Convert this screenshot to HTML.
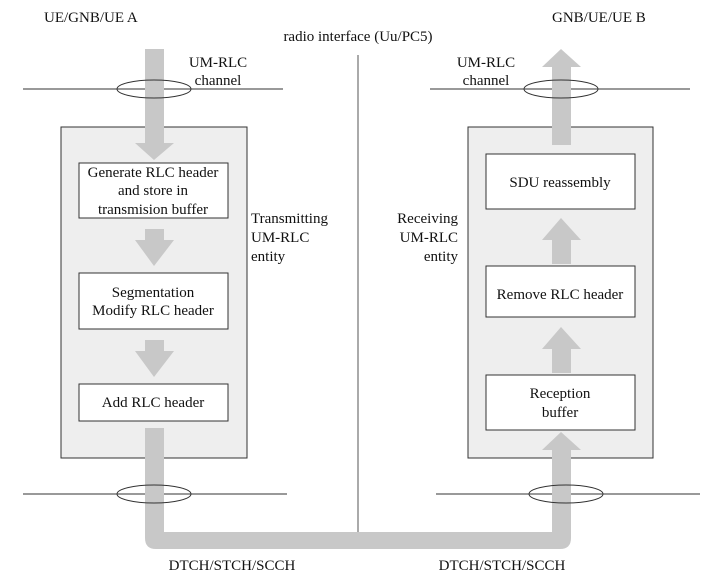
<!DOCTYPE html>
<html><head><meta charset="utf-8"><style>
html,body{margin:0;padding:0;background:#fff;}
svg{display:block;font-family:"Liberation Serif",serif;}
</style></head><body>
<svg width="721" height="580" viewBox="0 0 721 580" xmlns="http://www.w3.org/2000/svg">
<rect x="0" y="0" width="721" height="580" fill="#fff"/>
<rect x="61" y="127" width="186" height="331" fill="#eeeeee" stroke="#333" stroke-width="1"/>
<rect x="468" y="127" width="185" height="331" fill="#eeeeee" stroke="#333" stroke-width="1"/>
<line x1="358" y1="55" x2="358" y2="532" stroke="#555" stroke-width="1"/>
<line x1="23" y1="89" x2="283" y2="89" stroke="#333"/>
<line x1="430" y1="89" x2="690" y2="89" stroke="#333"/>
<line x1="23" y1="494" x2="287" y2="494" stroke="#333"/>
<line x1="436" y1="494" x2="700" y2="494" stroke="#333"/>
<g fill="#c8c8c8">
  <rect x="145" y="49" width="19" height="95"/>
  <polygon points="135,143 174,143 154,160"/>
  <rect x="145" y="229" width="19" height="12"/>
  <polygon points="135,240 174,240 154,266"/>
  <rect x="145" y="340" width="19" height="12"/>
  <polygon points="135,351 174,351 154,377"/>
  <path d="M145,428 H164 V532 H552 V448 H571 V538 Q571,549 560,549 H156 Q145,549 145,538 Z"/>
  <polygon points="542,450 581,450 561,432"/>
  <polygon points="542,67 581,67 561,49"/>
  <rect x="552" y="66" width="19" height="79"/>
  <polygon points="542,240 581,240 561,218"/>
  <rect x="552" y="239" width="19" height="25"/>
  <polygon points="542,349 581,349 561,327"/>
  <rect x="552" y="348" width="19" height="25"/>
</g>
<g fill="none" stroke="#333">
<ellipse cx="154" cy="89" rx="37" ry="9"/>
<ellipse cx="561" cy="89" rx="37" ry="9"/>
<ellipse cx="154" cy="494" rx="37" ry="9"/>
<ellipse cx="566" cy="494" rx="37" ry="9"/>
</g>
<g fill="#fff" stroke="#333">
<rect x="79" y="163" width="149" height="55"/>
<rect x="79" y="273" width="149" height="56"/>
<rect x="79" y="384" width="149" height="37"/>
<rect x="486" y="154" width="149" height="55"/>
<rect x="486" y="266" width="149" height="51"/>
<rect x="486" y="375" width="149" height="55"/>
</g>
<g font-size="15" fill="#111">
<text x="44" y="22">UE/GNB/UE A</text>
<text x="358" y="41" text-anchor="middle">radio interface (Uu/PC5)</text>
<text x="552" y="22">GNB/UE/UE B</text>
<text x="218" y="67" text-anchor="middle">UM-RLC</text>
<text x="218" y="85" text-anchor="middle">channel</text>
<text x="486" y="67" text-anchor="middle">UM-RLC</text>
<text x="486" y="85" text-anchor="middle">channel</text>
<text x="153" y="177" text-anchor="middle">Generate RLC header</text>
<text x="153" y="195" text-anchor="middle">and store in</text>
<text x="153" y="214" text-anchor="middle">transmision buffer</text>
<text x="251" y="223">Transmitting</text>
<text x="251" y="242">UM-RLC</text>
<text x="251" y="261">entity</text>
<text x="458" y="223" text-anchor="end">Receiving</text>
<text x="458" y="242" text-anchor="end">UM-RLC</text>
<text x="458" y="261" text-anchor="end">entity</text>
<text x="153" y="297" text-anchor="middle">Segmentation</text>
<text x="153" y="315" text-anchor="middle">Modify RLC header</text>
<text x="153" y="407" text-anchor="middle">Add RLC header</text>
<text x="560" y="187" text-anchor="middle">SDU reassembly</text>
<text x="560" y="299" text-anchor="middle">Remove RLC header</text>
<text x="560" y="398" text-anchor="middle">Reception</text>
<text x="560" y="417" text-anchor="middle">buffer</text>
<text x="232" y="570" text-anchor="middle">DTCH/STCH/SCCH</text>
<text x="502" y="570" text-anchor="middle">DTCH/STCH/SCCH</text>
</g>
</svg>
</body></html>
